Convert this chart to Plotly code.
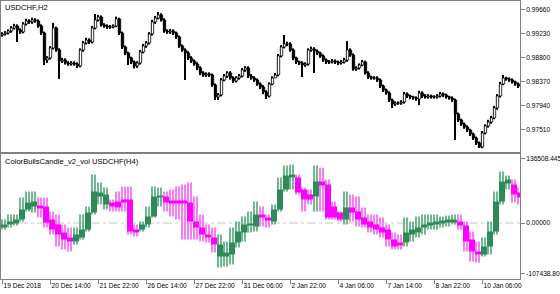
import plotly.graph_objects as go

# ---------------- data: USDCHF H2 candles ----------------
first_open = 0.99200
close = [0.99218, 0.99236, 0.99272, 0.99325, 0.99361, 0.99289, 0.99254, 0.99397, 0.99451, 0.99433,
         0.99469, 0.99451, 0.99361, 0.99236, 0.98752, 0.98788, 0.98967, 0.99325, 0.98931, 0.98734,
         0.98752, 0.98698, 0.98680, 0.98698, 0.98680, 0.98644, 0.98931, 0.99057, 0.99110, 0.99074,
         0.99325, 0.99469, 0.99522, 0.99379, 0.99361, 0.99343, 0.99343, 0.99361, 0.99487, 0.99236,
         0.98985, 0.98877, 0.98788, 0.98716, 0.98644, 0.98698, 0.98895, 0.99003, 0.99057, 0.99218,
         0.99433, 0.99504, 0.99558, 0.99469, 0.99272, 0.99254, 0.99272, 0.99236, 0.99164, 0.99003,
         0.98931, 0.98877, 0.98788, 0.98734, 0.98680, 0.98609, 0.98519, 0.98483, 0.98501, 0.98483,
         0.98304, 0.98089, 0.98125, 0.98394, 0.98465, 0.98519, 0.98429, 0.98376, 0.98429, 0.98465,
         0.98573, 0.98609, 0.98465, 0.98429, 0.98394, 0.98322, 0.98268, 0.98179, 0.98107, 0.98322,
         0.98429, 0.98483, 0.98824, 0.98985, 0.99039, 0.99039, 0.98931, 0.98788, 0.98716, 0.98698,
         0.98662, 0.98680, 0.98931, 0.98949, 0.98913, 0.98877, 0.98824, 0.98752, 0.98716, 0.98716,
         0.98734, 0.98716, 0.98698, 0.98716, 0.98752, 0.98931, 0.98842, 0.98591, 0.98609, 0.98662,
         0.98716, 0.98519, 0.98447, 0.98429, 0.98429, 0.98394, 0.98286, 0.98214, 0.98161, 0.98035,
         0.97963, 0.97981, 0.97981, 0.97999, 0.98143, 0.98107, 0.98089, 0.98071, 0.98053, 0.98161,
         0.98107, 0.98089, 0.98107, 0.98089, 0.98089, 0.98107, 0.98143, 0.98125, 0.98089, 0.98071,
         0.98035, 0.97784, 0.97677, 0.97605, 0.97551, 0.97497, 0.97426, 0.97354, 0.97265, 0.97193,
         0.97444, 0.97569, 0.97641, 0.97713, 0.97892, 0.98107, 0.98322, 0.98429, 0.98412, 0.98394,
         0.98358, 0.98322, 0.98286]
high = [0.99250, 0.99270, 0.99300, 0.99360, 0.99400, 0.99390, 0.99320, 0.99430, 0.99490, 0.99480,
        0.99510, 0.99500, 0.99480, 0.99390, 0.99260, 0.98820, 0.99000, 0.99415, 0.99350, 0.98960,
        0.98790, 0.98780, 0.98730, 0.98730, 0.98730, 0.98710, 0.98960, 0.99090, 0.99150, 0.99140,
        0.99360, 0.99576, 0.99560, 0.99550, 0.99410, 0.99390, 0.99380, 0.99390, 0.99530, 0.99510,
        0.99260, 0.99010, 0.98900, 0.98810, 0.98740, 0.98730, 0.98930, 0.99040, 0.99090, 0.99250,
        0.99470, 0.99540, 0.99612, 0.99590, 0.99500, 0.99300, 0.99310, 0.99300, 0.99260, 0.99190,
        0.99030, 0.98960, 0.98910, 0.98820, 0.98760, 0.98710, 0.98640, 0.98550, 0.98530, 0.98530,
        0.98510, 0.98330, 0.98160, 0.98430, 0.98500, 0.98550, 0.98550, 0.98460, 0.98460, 0.98500,
        0.98606, 0.98640, 0.98640, 0.98500, 0.98460, 0.98420, 0.98350, 0.98300, 0.98210, 0.98350,
        0.98460, 0.98520, 0.98860, 0.99020, 0.99200, 0.99080, 0.99070, 0.98960, 0.98810, 0.98740,
        0.98730, 0.98710, 0.98960, 0.98990, 0.98980, 0.98940, 0.98900, 0.98850, 0.98780, 0.98750,
        0.98770, 0.98760, 0.98740, 0.98750, 0.98790, 0.99092, 0.98960, 0.98870, 0.98640, 0.98690,
        0.98750, 0.98740, 0.98550, 0.98470, 0.98460, 0.98460, 0.98420, 0.98310, 0.98240, 0.98190,
        0.98060, 0.98010, 0.98010, 0.98030, 0.98180, 0.98170, 0.98130, 0.98110, 0.98100, 0.98200,
        0.98190, 0.98140, 0.98140, 0.98130, 0.98120, 0.98140, 0.98180, 0.98170, 0.98150, 0.98110,
        0.98100, 0.98060, 0.97810, 0.97700, 0.97630, 0.97580, 0.97520, 0.97450, 0.97380, 0.97290,
        0.97480, 0.97600, 0.97680, 0.97750, 0.97930, 0.98140, 0.98360, 0.98483, 0.98450, 0.98440,
        0.98420, 0.98380, 0.98350]
low = [0.99170, 0.99190, 0.99210, 0.99240, 0.99300, 0.99074, 0.99220, 0.99230, 0.99370, 0.99400,
       0.99400, 0.99420, 0.99330, 0.99200, 0.98662, 0.98700, 0.98760, 0.98940, 0.98900, 0.98412,
       0.98700, 0.98670, 0.98650, 0.98650, 0.98650, 0.98610, 0.98620, 0.98900, 0.99030, 0.99040,
       0.99050, 0.99300, 0.99440, 0.99350, 0.99330, 0.99310, 0.99310, 0.99320, 0.99340, 0.99200,
       0.98950, 0.98840, 0.98662, 0.98680, 0.98600, 0.98610, 0.98670, 0.98870, 0.98970, 0.99030,
       0.99190, 0.99400, 0.99480, 0.99440, 0.99240, 0.99220, 0.99220, 0.99200, 0.99130, 0.98970,
       0.98900, 0.98394, 0.98750, 0.98700, 0.98650, 0.98570, 0.98480, 0.98450, 0.98450, 0.98450,
       0.98270, 0.98035, 0.98035, 0.98100, 0.98370, 0.98430, 0.98400, 0.98340, 0.98350, 0.98400,
       0.98440, 0.98540, 0.98430, 0.98400, 0.98360, 0.98290, 0.98230, 0.98140, 0.98053, 0.98080,
       0.98300, 0.98450, 0.98460, 0.98800, 0.98960, 0.99000, 0.98900, 0.98750, 0.98680, 0.98660,
       0.98447, 0.98630, 0.98650, 0.98900, 0.98519, 0.98840, 0.98790, 0.98720, 0.98680, 0.98680,
       0.98690, 0.98680, 0.98660, 0.98670, 0.98690, 0.98720, 0.98810, 0.98560, 0.98560, 0.98580,
       0.98640, 0.98490, 0.98410, 0.98400, 0.98400, 0.98360, 0.98250, 0.98180, 0.98130, 0.98000,
       0.97892, 0.97930, 0.97950, 0.97950, 0.97970, 0.98070, 0.98050, 0.98040, 0.98020, 0.97945,
       0.98070, 0.98060, 0.98060, 0.98060, 0.98060, 0.98060, 0.98080, 0.98090, 0.98060, 0.98040,
       0.98000, 0.97318, 0.97640, 0.97570, 0.97520, 0.97460, 0.97390, 0.97320, 0.97230, 0.97175,
       0.97170, 0.97420, 0.97540, 0.97610, 0.97690, 0.97860, 0.98080, 0.98300, 0.98380, 0.98360,
       0.98330, 0.98290, 0.98250]
open_ = [first_open] + close[:-1]

# ---------------- data: ColorBullsCandle_v2_vol (H4, one value per two H2 bars) ----------------
ind_open = [-9500, -3200, -1100, 7400, 28500, 34800, 36900, 34800, 7400, -3200,
            -20000, -30600, -39000, -30600, -13700, 22100, 55900, 39000, 43200, 45300,
            49500, 49500, -13700, -13700, -3200, 13700, 53800, 55900, 47400, 47400,
            47400, 43200, 3200, -9500, -24200, -30600, -70600, -70600, -66400, -41100,
            -20000, -5300, -7400, 17900, 11600, 3200, 28500, 70600, 95900, 95900,
            70600, 60100, 55900, 87500, 81200, 34800, 22100, 7400, 32700, 24200,
            11600, 3200, -3200, -9500, -13700, -34800, -41100, -41100, -24200, -20000,
            -9500, -5300, -3200, -1100, 1100, 3200, 3200, -5300, -34800, -60100,
            -66400, -49500, -17900, 45300, 83300, 81200, 64300]
ind_high = [7400, 17900, 17900, 53800, 66400, 66400, 53800, 53800, 24200, 17900,
            -3200, -9500, -9500, 17900, 34800, 102200, 85400, 74800, 49500, 66400,
            76900, 76900, -3200, 3200, 34800, 76900, 74800, 66400, 70600, 76900,
            81200, 85400, 55900, 17900, -3200, -9500, -24200, -39000, -9500, 3200,
            13700, 24200, 45300, 34800, 17900, 39000, 95900, 121200, 123300, 102200,
            74800, 70600, 121200, 117000, 91700, 45300, 24200, 66400, 60100, 55900,
            32700, 17900, 17900, 11600, -3200, -20000, -24200, 11600, 3200, 13700,
            17900, 17900, 17900, 13700, 15800, 17900, 17900, 3200, -17900, -39000,
            -30600, 3200, 66400, 108600, 100100, 91700, 74800]
ind_low = [-13700, -9500, -5300, 3200, 24200, 22100, 11600, -9500, -24200, -49500,
           -55900, -60100, -45300, -34800, -17900, 17900, 39000, 28500, 24200, 24200,
           24200, -24200, -28500, -17900, -9500, 11600, 34800, 24200, 13700, 7400,
           -34800, -34800, -34800, -39000, -41100, -62200, -93800, -91700, -87500, -51600,
           -39000, -20000, -17900, -7400, -9500, -3200, 24200, 66400, 70600, 60100,
           24200, 39000, 24200, 24200, 7400, 7400, 3200, -3200, 3200, -7400,
           -9500, -20000, -24200, -30600, -49500, -55900, -55900, -49500, -39000, -30600,
           -24200, -13700, -13700, -9500, -7400, -3200, -13700, -60100, -81200, -83300,
           -70600, -66400, -24200, 39000, 70600, 43200, 39000]
ind_close = [-3200, 3200, 7400, 28500, 43200, 45300, 32700, 1100, -13700, -24200,
             -34800, -39000, -24200, -13700, 22100, 66400, 64300, 60100, 34800, 32700,
             43200, -17900, -20000, -3200, 13700, 55900, 58000, 43200, 43200, 43200,
             43200, 3200, -9500, -24200, -30600, -45300, -45300, -62200, -41100, -17900,
             -3200, -1100, 17900, 11600, 5300, 28500, 70600, 100100, 102200, 64300,
             49500, 49500, 87500, 79100, 11600, 11600, 7400, 32700, 22100, 7400,
             -3200, -9500, -13700, -20000, -34800, -49500, -45300, -20000, -13700, -9500,
             -3200, 1100, 3200, 5300, 7400, 7400, -5300, -39000, -60100, -66400,
             -49500, -17900, 45300, 87500, 91700, 60100, 53800]

# ---------------- axis labels ----------------
x_tick_idx = [0, 16, 32, 48, 64, 80, 96, 112, 128, 144, 160]
x_tick_text = ["19 Dec 2018", "20 Dec 14:00", "21 Dec 22:00", "26 Dec 14:00", "27 Dec 22:00",
               "31 Dec 06:00", "2 Jan 22:00", "4 Jan 06:00", "7 Jan 14:00", "8 Jan 22:00",
               "10 Jan 06:00"]
price_ticks = [0.99660, 0.99230, 0.98800, 0.98370, 0.97940, 0.97510]
ind_ticks = [136508.445, 0.0, -107438.8]
ind_tick_text = ["136508.445", "0.00000", "-107438.800"]

# ---------------- build ----------------
n = len(close)
xs = list(range(n))
up = [c >= o for o, c in zip(open_, close)]

blk = [i // 2 for i in xs]
io = [ind_open[b] for b in blk]
ih = [ind_high[b] for b in blk]
il = [ind_low[b] for b in blk]
ic = [ind_close[b] for b in blk]
bull = [c >= o for o, c in zip(io, ic)]

BODY_UP, BODY_DN = "#2E8B57", "#FF00FF"
WICK_UP, WICK_DN = "#6FB891", "#F77CF7"
FONT = "Liberation Sans"
AX = "#808080"
TICKF = dict(family=FONT, size=6.6, color="#000000")

fig = go.Figure()
# price wicks
fig.add_trace(go.Bar(
    x=xs, base=low, y=[h - l for h, l in zip(high, low)], width=0.34,
    marker=dict(color="#000000", line=dict(width=0)),
    xaxis="x", yaxis="y", showlegend=False, hoverinfo="skip"))
# price bodies
fig.add_trace(go.Bar(
    x=xs, base=[min(o, c) for o, c in zip(open_, close)],
    y=[max(abs(c - o), 0.00003) for o, c in zip(open_, close)], width=0.8,
    marker=dict(color=["#ffffff" if u else "#000000" for u in up],
                line=dict(color="#000000", width=0.8)),
    xaxis="x", yaxis="y", showlegend=False, hoverinfo="skip"))

# indicator wicks
fig.add_trace(go.Bar(
    x=xs, base=il, y=[h - l for h, l in zip(ih, il)], width=0.34,
    marker=dict(color=[WICK_UP if b else WICK_DN for b in bull], line=dict(width=0)),
    xaxis="x2", yaxis="y2", showlegend=False, hoverinfo="skip"))
# indicator bodies
fig.add_trace(go.Bar(
    x=xs, base=[min(o, c) for o, c in zip(io, ic)], y=[abs(c - o) for o, c in zip(io, ic)],
    width=1.0,
    marker=dict(color=[BODY_UP if b else BODY_DN for b in bull], line=dict(width=0)),
    xaxis="x2", yaxis="y2", showlegend=False, hoverinfo="skip"))

H = 294.0
W = 560.0
xr = [-0.5, n - 0.5]
fig.update_layout(
    width=560, height=294, margin=dict(l=0, r=0, t=0, b=0),
    paper_bgcolor="white", plot_bgcolor="white", barmode="overlay",
    font=dict(family=FONT, size=8, color="#000000"),
    xaxis=dict(domain=[1 / W, 520 / W], anchor="y", range=xr, showticklabels=False,
               showgrid=False, zeroline=False, showline=True, linecolor=AX, mirror=True,
               ticks="", fixedrange=True),
    yaxis=dict(domain=[1 - 152 / H, 1 - 1 / H], anchor="x", range=[0.971033, 0.998087],
               side="right", tickvals=price_ticks, ticktext=[f"{v:.5f}" for v in price_ticks],
               tickfont=TICKF, ticks="outside", ticklen=4, tickcolor=AX, showgrid=False,
               zeroline=False, showline=True, linecolor=AX, mirror=True, automargin=False),
    xaxis2=dict(domain=[1 / W, 520 / W], anchor="y2", range=xr, tickvals=x_tick_idx,
                ticktext=x_tick_text, tickfont=TICKF, tickangle=0, ticks="outside",
                ticklen=4, tickcolor=AX, ticklabelposition="outside right", showgrid=False,
                zeroline=False, showline=True, linecolor=AX, mirror=True, automargin=False),
    yaxis2=dict(domain=[1 - 279 / H, 1 - 153.5 / H], anchor="x2", range=[-118000, 146600],
                side="right", tickvals=ind_ticks, ticktext=ind_tick_text, tickfont=TICKF,
                ticks="outside", ticklen=4, tickcolor=AX, showgrid=False, zeroline=False,
                showline=True, linecolor=AX, mirror=True, automargin=False),
    shapes=[dict(type="line", xref="x2", yref="y2", x0=xr[0], x1=xr[1], y0=0, y1=0,
                 line=dict(color="#C8C8C8", width=1, dash="dashdot"), layer="below")],
    annotations=[
        dict(text="USDCHF,H2", xref="paper", yref="paper", x=3 / W, y=1 - 7 / H,
             xanchor="left", yanchor="middle", showarrow=False, font=dict(size=7.6)),
        dict(text="ColorBullsCandle_v2_vol USDCHF(H4)", xref="paper", yref="paper",
             x=3 / W, y=1 - 162 / H, xanchor="left", yanchor="middle", showarrow=False,
             font=dict(size=7.6)),
    ],
)
fig.write_html("out.html")
